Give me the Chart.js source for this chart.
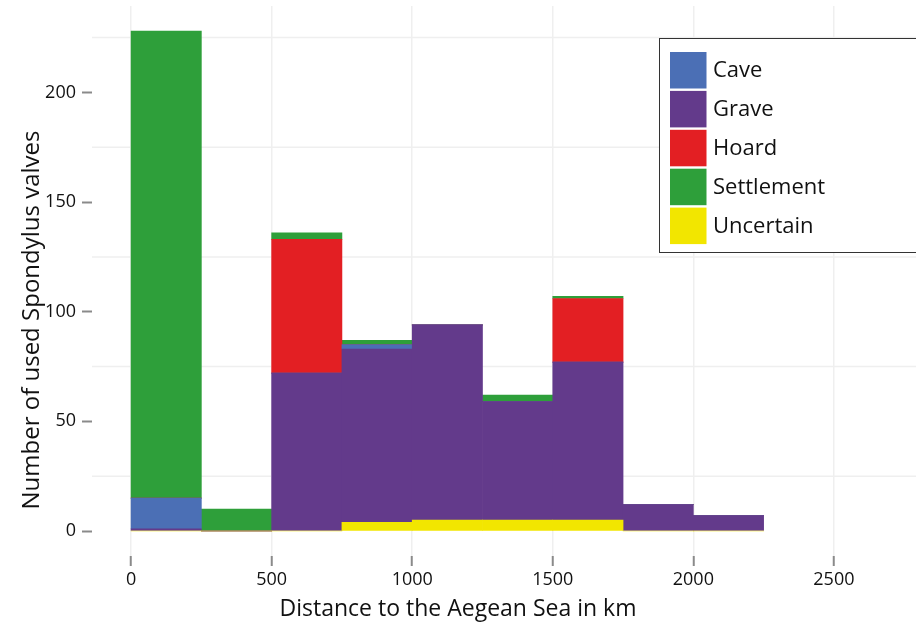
<!DOCTYPE html>
<html>
<head>
<meta charset="utf-8">
<script src="https://cdn.jsdelivr.net/npm/chart.js@4/dist/chart.umd.min.js"></script>
<style>
  html, body { margin: 0; padding: 0; background: #ffffff; }
  #wrap { width: 916px; height: 623px; }
</style>
</head>
<body>
<div id="wrap"><canvas id="chart" width="916" height="623"></canvas></div>
<script>
// Histogram bins (km from the Aegean Sea), 250 km wide
const binStarts = [0, 250, 500, 750, 1000, 1250, 1500, 1750, 2000];
const binWidth = 250;

// Counts of used Spondylus valves per context type and bin
const cave       = [14, 0, 0, 2, 0, 0, 0, 0, 0];
const grave      = [1, 0, 72, 79, 89, 54, 72, 12, 7];
const hoard      = [0, 0, 61, 0, 0, 0, 29, 0, 0];
const settlement = [213, 10, 3, 2, 0, 3, 1, 0, 0];
const uncertain  = [0, 0, 0, 4, 5, 5, 5, 0, 0];

// Axis ticks
const xTicks = [0, 500, 1000, 1500, 2000, 2500];
const yTicks = [0, 50, 100, 150, 200];
const yMinorGrid = [25, 75, 125, 175, 225];

const xTitle = 'Distance to the Aegean Sea in km';
const yTitle = 'Number of used Spondylus valves';

const legendOrder = ['Cave', 'Grave', 'Hoard', 'Settlement', 'Uncertain'];
const colours = {
  Cave: '#4b6fb5',
  Grave: '#633a8b',
  Hoard: '#e31f23',
  Settlement: '#2e9f3a',
  Uncertain: '#f2e600'
};

const FONT = "'Open Sans', 'Noto Sans', sans-serif";

function toPoints(values) {
  return values.map((v, i) => ({ x: binStarts[i] + binWidth / 2, y: v }));
}

// stacking order, bottom to top
const stackSeries = [
  ['Uncertain', uncertain],
  ['Grave', grave],
  ['Cave', cave],
  ['Hoard', hoard],
  ['Settlement', settlement]
];

const datasets = stackSeries.map(([name, vals]) => ({
  label: name,
  data: toPoints(vals),
  backgroundColor: colours[name],
  borderWidth: 0,
  barPercentage: 1.0,
  categoryPercentage: 1.0
}));

// light horizontal guides between the labelled ticks
const minorGridPlugin = {
  id: 'minorGrid',
  beforeDatasetsDraw(chart) {
    const { ctx, chartArea, scales } = chart;
    ctx.save();
    ctx.strokeStyle = '#efefef';
    ctx.lineWidth = 1.5;
    yMinorGrid.forEach(v => {
      const y = scales.y.getPixelForValue(v);
      ctx.beginPath();
      ctx.moveTo(chartArea.left, y);
      ctx.lineTo(chartArea.right, y);
      ctx.stroke();
    });
    ctx.restore();
  }
};

// vertical axis title
const yTitlePlugin = {
  id: 'yTitle',
  afterDraw(chart) {
    const { ctx } = chart;
    ctx.save();
    ctx.translate(32, 320);
    ctx.rotate(-Math.PI / 2);
    ctx.font = `24px ${FONT}`;
    ctx.fillStyle = '#111111';
    ctx.textAlign = 'center';
    ctx.textBaseline = 'middle';
    ctx.fillText(yTitle, 0, 0);
    ctx.restore();
  }
};

// boxed key in the upper right of the plot
const boxLegendPlugin = {
  id: 'boxLegend',
  afterDraw(chart) {
    const { ctx } = chart;
    const left = 659.5, top = 38.5, w = 300, h = 214;
    ctx.save();
    ctx.fillStyle = '#ffffff';
    ctx.fillRect(left, top, w, h);
    ctx.strokeStyle = '#333333';
    ctx.lineWidth = 1;
    ctx.strokeRect(left, top, w, h);
    ctx.font = `22px ${FONT}`;
    ctx.textBaseline = 'middle';
    ctx.textAlign = 'left';
    legendOrder.forEach((name, i) => {
      const ds = chart.data.datasets.find(d => d.label === name);
      const sy = 52 + i * 38.9;
      ctx.fillStyle = ds.backgroundColor;
      ctx.fillRect(670, sy, 36.5, 36.5);
      ctx.fillStyle = '#111111';
      ctx.fillText(name, 713, sy + 19);
    });
    ctx.restore();
  }
};

new Chart(document.getElementById('chart'), {
  type: 'bar',
  data: { datasets },
  options: {
    responsive: false,
    animation: false,
    devicePixelRatio: 1,
    layout: { padding: { top: 6, left: 0, right: 0, bottom: 0 } },
    plugins: {
      legend: { display: false },
      tooltip: { enabled: false },
      title: {
        display: true,
        position: 'bottom',
        text: xTitle,
        font: { family: FONT, size: 23, weight: 'normal', lineHeight: 1.2 },
        color: '#111111',
        padding: { top: 0, bottom: 0 }
      }
    },
    scales: {
      x: {
        type: 'linear',
        stacked: true,
        offset: false,
        min: -139,
        max: 2792,
        afterBuildTicks: s => { s.ticks = xTicks.map(v => ({ value: v })); },
        afterFit: s => { s.height = 39.4; s.paddingLeft = 0; s.paddingRight = 0; },
        border: { display: false },
        grid: {
          offset: false,
          color: '#efefef',
          lineWidth: 1.5,
          tickColor: '#8a8a8a',
          tickLength: 10,
          tickWidth: 2
        },
        ticks: {
          font: { family: FONT, size: 18 },
          color: '#111111',
          padding: 3,
          maxRotation: 0,
          autoSkip: false,
          callback: v => String(v)
        }
      },
      y: {
        type: 'linear',
        stacked: true,
        min: -11.4,
        max: 239.4,
        afterBuildTicks: s => { s.ticks = yTicks.map(v => ({ value: v })); },
        afterFit: s => { s.width = 92; s.paddingTop = 0; s.paddingBottom = 0; },
        border: { display: false },
        grid: {
          drawOnChartArea: false,
          tickColor: '#8a8a8a',
          tickLength: 10,
          tickWidth: 2
        },
        ticks: {
          font: { family: FONT, size: 18 },
          color: '#111111',
          padding: 6,
          callback: v => String(v)
        }
      }
    }
  },
  plugins: [minorGridPlugin, yTitlePlugin, boxLegendPlugin]
});
</script>
</body>
</html>
